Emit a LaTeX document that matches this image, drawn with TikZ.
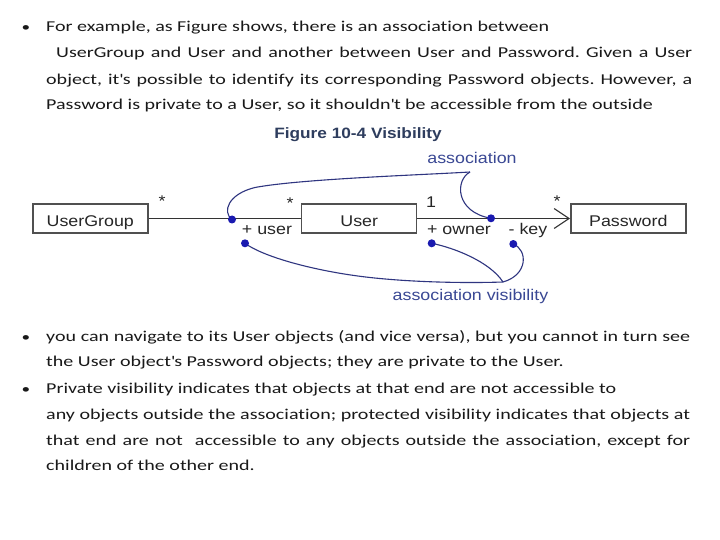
\documentclass[tikz,border=0pt]{standalone}
\usepackage{fontspec}
\setmainfont{Carlito}
\newfontfamily\bodyf[FakeStretch=1.33,Ligatures={NoCommon}]{Carlito}
\newfontfamily\diagf[FakeStretch=1.15]{Liberation Sans}
\usetikzlibrary{arrows.meta}
\definecolor{boxline}{HTML}{505050}
\definecolor{assoc}{HTML}{2F3580}
\definecolor{dotblue}{HTML}{1A1AB0}
\definecolor{assoctext}{HTML}{3A4894}
\definecolor{titlecol}{HTML}{2E3D5E}
\newcommand{\sq}{\textquotesingle}
\frenchspacing
\tikzset{
  bodytext/.style={inner sep=0pt, anchor=base west, font=\bodyf\fontsize{15.05}{16}\selectfont, text=black!90},
  bulletmark/.style={inner sep=0pt, anchor=base, font=\bodyf\fontsize{13}{16}\selectfont, text=black!90},
  umlbox/.style={draw=boxline, line width=1.4pt, minimum width=115pt, minimum height=29pt, inner sep=0pt,
    text height=11pt, text depth=0pt, font=\diagf\fontsize{15.5}{17}\selectfont, text=black!85},
  diaglabel/.style={inner sep=0pt, anchor=base, font=\diagf\fontsize{15.5}{17}\selectfont, text=black!85},
  assoclabel/.style={inner sep=0pt, anchor=base, font=\diagf\fontsize{15.5}{17}\selectfont, text=assoctext},
  assocline/.style={draw=black!80, line width=1.1pt},
  callout/.style={draw=assoc, line width=1.1pt},
  dot/.style={circle, fill=dotblue, inner sep=0pt, minimum size=8pt},
}
\begin{document}
\begin{tikzpicture}[x=1pt,y=-1pt]
\fill[white] (0,0) rectangle (720,540);
\useasboundingbox (0,0) rectangle (720,540);

% upper text
\node[bulletmark] (bu1) at (26,32) {\textbullet};
\node[bodytext] (t1) at (46,32) {For example, as Figure shows, there is an association between};
\node[bodytext] (t2) at (56,58) {\makebox[636pt][s]{UserGroup and User and another between User and Password. Given a User}};
\node[bodytext] (t3) at (46,84.5) {\makebox[646pt][s]{object, it\sq s possible to identify its corresponding Password objects. However, a}};
\node[bodytext] (t4) at (46,110) {Password is private to a User, so it shouldn\sq t be accessible from the outside};

% title
\node[inner sep=0pt, anchor=base, font=\diagf\bfseries\fontsize{15}{17}\selectfont, text=titlecol] (title) at (358,138.5) {Figure 10-4 Visibility};

% boxes
\node[umlbox] (ug) at (90.3,218.5) {\raisebox{-2.5pt}{UserGroup}};
\node[umlbox] (user) at (359.2,218.5) {\raisebox{-2.5pt}{User}};
\node[umlbox] (pw) at (628.3,218.5) {\raisebox{-2.5pt}{Password}};

\draw[assocline] (ug) -- (user);
\draw[assocline, -{Straight Barb[length=15pt,width=20pt,line width=1.1pt]}] (user) -- (pw);

% multiplicities and roles
\node[diaglabel] (m1) at (162,207) {*};
\node[diaglabel] (m2) at (290,208) {*};
\node[diaglabel] (m3) at (431,207.5) {1};
\node[diaglabel] (m4) at (557,207) {*};
\node[diaglabel] (r1) at (267,235) {+ user};
\node[diaglabel] (r2) at (459,235) {+ owner};
\node[diaglabel] (r3) at (528,235) {- key};

% callout labels
\node[assoclabel] (al) at (472,163.5) {association};
\node[assoclabel] (avl) at (470.5,300) {association visibility};

% callout lines
\coordinate (p1) at (232,219.5);
\coordinate (p2) at (491,218.3);
\coordinate (p3) at (245,243.3);
\coordinate (p4) at (431.7,243.3);
\coordinate (p5) at (513.3,244);
\coordinate (ca) at (470,172);
\coordinate (cb) at (503,282);

\draw[callout] (p1) .. controls (222,212) and (228,194) .. (255,187.5) .. controls (300,179) and (420,175) .. (ca);
\draw[callout] (ca) .. controls (455,180) and (455,212) .. (p2);
\draw[callout] (p3) .. controls (265,258) and (320,272) .. (370,277.5) .. controls (420,283) and (475,283) .. (cb);
\draw[callout] (p4) .. controls (455,248) and (490,262) .. (cb);
\draw[callout] (p5) .. controls (528,250) and (528,275) .. (cb);

\node[dot] (d1) at (p1) {};
\node[dot] (d2) at (p2) {};
\node[dot] (d3) at (p3) {};
\node[dot] (d4) at (p4) {};
\node[dot] (d5) at (p5) {};

% lower text
\node[bulletmark] (bu2) at (26,341) {\textbullet};
\node[bodytext] (u1) at (46,341) {\makebox[644pt][s]{you can navigate to its User objects (and vice versa), but you cannot in turn see}};
\node[bodytext] (u2) at (46,366) {the User object\sq s Password objects; they are private to the User.};
\node[bulletmark] (bu3) at (26,393) {\textbullet};
\node[bodytext] (u3) at (46,393) {Private visibility indicates that objects at that end are not accessible to};
\node[bodytext] (u4) at (46,419) {\makebox[644pt][s]{any objects outside the association; protected visibility indicates that objects at}};
\node[bodytext] (u5) at (46,445) {\makebox[644pt][s]{that end are not~ accessible to any objects outside the association, except for}};
\node[bodytext] (u6) at (46,470) {children of the other end.};
\end{tikzpicture}
\end{document}
